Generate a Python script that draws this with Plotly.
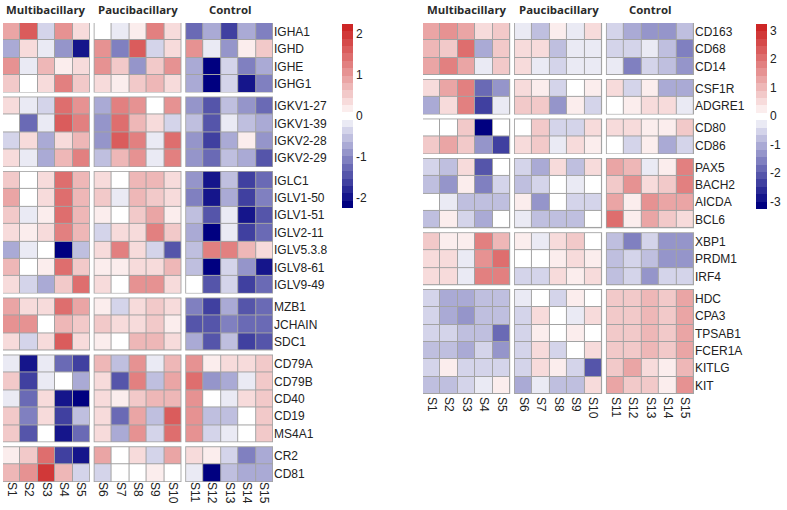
import plotly.graph_objects as go

# ---------------- data ----------------
samples = ["S1", "S2", "S3", "S4", "S5", "S6", "S7", "S8", "S9", "S10",
           "S11", "S12", "S13", "S14", "S15"]
col_groups = ["Multibacillary", "Paucibacillary", "Control"]

# Left heatmap (B-cell / immunoglobulin genes), scale -2..2
L1_genes = ["IGHA1", "IGHD", "IGHE", "IGHG1"]
L1_values = [
    [0.9, 1.6, -0.4, 1.1, 0.4, 0, -0.15, 0.1, 1.3, 0.3, -1.3, -0.7, -1.7, -0.7, -1.1],
    [-0.7, 0.4, -0.15, -0.9, -2.0, 1.0, -1.1, 1.6, -0.3, 0.4, 1.0, -0.15, -0.9, 0.1, 0.6],
    [1.0, -0.15, 0.8, 0.1, 0.3, 1.0, 0.6, -0.9, 0.5, 1.1, -0.7, -2.25, -0.35, -1.1, -0.7],
    [0.6, 0, 0.3, 1.3, 0.6, 0.4, 0.15, 0.6, 0.8, 0.3, -0.7, -2.1, -0.35, -1.9, -1.0],
]
L2_genes = ["IGKV1-27", "IGKV1-39", "IGKV2-28", "IGKV2-29"]
L2_values = [
    [0.4, -0.15, -0.35, 1.5, 1.0, -0.7, 1.2, 1.0, 0, 1.0, -0.9, -1.4, -0.5, -0.9, -1.3],
    [0, -1.3, -0.15, 1.7, 1.2, -0.9, 1.5, 0.8, 0.3, -0.35, -0.5, -1.4, -0.15, -0.5, -0.7],
    [-0.35, 0.3, -0.7, 0.3, 0.8, -0.9, 1.7, 1.2, -0.15, 1.5, -0.9, -1.7, -0.7, 0.1, -0.9],
    [0.4, -0.15, -0.7, 0.8, 1.3, -0.5, 0.7, 1.1, -0.15, 1.2, -0.9, -1.3, -0.5, -0.7, -1.5],
]
L3_genes = ["IGLC1", "IGLV1-50", "IGLV1-51", "IGLV2-11", "IGLV5.3.8", "IGLV8-61", "IGLV9-49"]
L3_values = [
    [0.6, 0, 0.3, 1.5, 0.7, 0.4, 0, 0.7, 0.8, 0.3, -0.9, -1.9, -0.5, -1.7, -1.3],
    [0.9, 0, 0.3, 1.4, 0.7, 0.6, -0.15, 0.7, 0.6, 0.3, -1.1, -1.9, -0.7, -1.7, -1.1],
    [0.6, -0.15, 0.15, 1.5, 0.8, 0.15, 0, 0.6, 0.9, 0.15, -0.5, -1.4, -0.15, -1.9, -1.4],
    [0.4, 0.15, 0.3, 1.2, 0.8, -0.35, 0.3, 0.3, 1.2, 0.6, -0.7, -2.25, -0.15, -1.7, -1.3],
    [-0.7, -0.15, 0, -2.25, -0.5, 0.3, 1.2, 0.3, -0.35, -1.4, -0.5, 1.2, 1.2, 0.8, 0.3],
    [0.7, 0, 0.15, 1.5, 0.6, 0.15, 0.15, 0.4, 0.4, 0.7, -0.5, -2.1, -0.35, -0.9, -1.9],
    [0.3, -0.35, -0.8, 0.6, 1.5, 0.3, 0, 1.1, 1.1, 0.3, 0, -1.4, -0.35, -1.7, -1.3],
]
L4_genes = ["MZB1", "JCHAIN", "SDC1"]
L4_values = [
    [0.9, 0.3, 0.3, 1.5, 0.9, 0.15, -0.35, 0.3, 0.5, 0.3, -1.1, -1.7, -0.7, -1.4, -1.2],
    [1.0, 1.0, 0, 0.8, 0.6, 0.6, 0.4, 0.4, 0.6, 0.15, -1.4, -1.4, -1.1, -1.2, -1.3],
    [0.4, -0.3, 0.4, 1.6, 0.3, 0.2, 0, 0.7, 0.7, 0.4, -0.7, -1.4, -0.5, -1.7, -1.4],
]
L5_genes = ["CD79A", "CD79B", "CD40", "CD19", "MS4A1"]
L5_values = [
    [-0.15, -1.9, -0.15, -1.3, -1.7, 0.7, -0.5, 1.1, -0.15, 0.8, 1.1, 0.15, 0.4, 0.4, 0.5],
    [0.6, -1.7, -0.15, 0, -0.7, 0.4, -1.4, 1.3, -0.5, 0.9, 1.4, -0.9, -0.7, -0.15, 0.6],
    [-0.15, -1.3, 0.3, -1.9, -2.25, 0.3, 0.15, 0.6, 0.8, 0.7, 1.1, 0, -0.15, 0.3, 0.6],
    [0.6, -1.1, 0.3, -1.7, -0.5, 0.3, -1.3, 0.9, -0.5, 1.7, 1.1, -0.5, -0.5, 0, 0.5],
    [0.6, -1.4, 0, -1.9, -1.2, 0.4, -0.7, 1.1, -0.35, 1.4, 1.1, -0.35, -0.15, 0, 0.5],
]
L6_genes = ["CR2", "CD81"]
L6_values = [
    [0.2, 0.6, 1.5, -1.7, -1.9, 0.9, 0, 0.3, -0.35, 0.9, 0.3, 0.1, -0.35, -1.0, -0.7],
    [0.8, 1.0, 2.0, 0.8, -0.35, -0.35, 0, 0, 0.1, 0, -0.15, -2.25, -0.5, -0.7, -0.8],
]

# Right heatmap (myeloid / plasma / mast-cell genes), scale -3..3
R1_genes = ["CD163", "CD68", "CD14"]
R1_values = [
    [1.3, 1.6, 1.3, 0.4, 0.7, -0.2, -0.9, 0.2, -0.2, 0.6, -0.5, -1.0, -1.3, -1.3, -0.7],
    [1.0, 0.7, 2.0, -1.0, 0.9, 0.6, 0.4, -0.9, -0.2, -0.2, -0.5, -0.5, -0.2, -0.8, -1.5],
    [1.3, 1.8, 1.3, -0.2, 0.9, 0.4, -0.2, -0.4, -0.2, -0.2, -0.2, -1.6, -0.4, -0.9, -1.3],
]
R2_genes = ["CSF1R", "ADGRE1"]
R2_values = [
    [0.4, 1.3, 1.9, -1.9, -1.3, 0.6, 0.2, -0.5, 0, 0.2, 0.6, -0.5, 0.2, -1.0, -1.0],
    [-1.0, 0.4, 1.8, -2.4, -0.2, 0.9, 0.7, -1.4, 0.2, -0.5, 0, 0.2, 0.4, 0.4, -0.2],
]
R3_genes = ["CD80", "CD86"]
R3_values = [
    [0, 0, 0.7, -3.25, 0, 0, 0.7, -0.5, -0.5, 0.4, 0.4, 0.4, 0.2, 0.2, 0.9],
    [0.7, 1.3, 0.7, -1.2, -2.4, 0.6, 0.7, -0.2, 0.4, 0.2, 0, -0.4, 0.2, -1.0, -0.6],
]
R4_genes = ["PAX5", "BACH2", "AICDA", "BCL6"]
R4_values = [
    [-0.5, -0.7, 0.4, -2.0, 0, -0.5, -1.0, 0.4, -0.8, 0.4, 1.4, 1.0, -0.2, 0.2, 1.9],
    [-0.9, -1.2, 0.2, -1.5, -0.4, -0.7, -0.5, 0, -0.2, 0, 0.7, 1.5, 0.4, 0.7, 1.8],
    [0, -0.2, -0.9, -0.9, -0.9, 0.2, -1.3, 0, -0.4, -0.5, 1.4, 0.2, 1.6, 1.3, 1.2],
    [-0.9, 0.2, -0.5, -1.1, 0, -0.2, -0.8, -0.7, -0.7, 0, 2.1, 0.2, 1.2, 0.7, 0.6],
]
R5_genes = ["XBP1", "PRDM1", "IRF4"]
R5_values = [
    [0.7, 0.2, 0.2, 1.8, 1.0, 0.2, -0.2, 0.4, 0.8, 0, -0.9, -1.5, -0.6, -1.2, -1.2],
    [0.4, 0.4, -0.2, 1.5, 2.0, 0, 0, 0.2, 0.4, 0.2, -0.9, -0.6, -0.8, -1.2, -1.2],
    [0.6, 0.4, -0.2, 1.7, 1.7, -0.4, -0.5, 0.6, 0.2, 0.4, -0.9, -0.6, -1.4, -0.6, -0.6],
]
R6_genes = ["HDC", "CPA3", "TPSAB1", "FCER1A", "KITLG", "KIT"]
R6_values = [
    [-0.6, -1.0, -1.0, -0.8, -0.8, -0.2, 0, -0.4, 0.2, 0, 0.9, 0.9, 1.1, 0.8, 1.4],
    [-0.6, -1.0, -1.4, -0.8, -0.8, -0.4, 0.4, 0, -0.2, 0.4, 0.9, 0.8, 1.1, 0.9, 1.4],
    [-0.4, -0.6, -0.8, -0.8, -1.8, -0.6, 0.2, 0, 0.2, 0, 0.9, 0.8, 1.1, 0.9, 1.2],
    [-0.8, -0.8, -1.0, -0.4, -1.4, -0.4, 0.4, -0.4, 0, 0.6, 0.7, 0.9, 1.1, 0.7, 1.4],
    [-0.6, 0.2, -0.4, -0.4, -0.6, -0.4, 0.6, 0.2, -0.4, -2.0, 0.7, 1.3, 0.4, 0.2, 1.1],
    [-0.9, -0.9, -0.4, -0.2, 0.2, -1.0, -0.2, -0.9, -0.9, 0.4, 1.3, 0.7, 0.9, 0.2, 1.6],
]

left_ticks = [-2, -1, 0, 1, 2]
left_ticktext = ["-2", "-1", "0", "1", "2"]
right_ticks = [-3, -2, -1, 0, 1, 2, 3]
right_ticktext = ["-3", "-2", "-1", "0", "1", "2", "3"]

left_blocks = [(L1_genes, L1_values), (L2_genes, L2_values), (L3_genes, L3_values),
               (L4_genes, L4_values), (L5_genes, L5_values), (L6_genes, L6_values)]
right_blocks = [(R1_genes, R1_values), (R2_genes, R2_values), (R3_genes, R3_values),
                (R4_genes, R4_values), (R5_genes, R5_values), (R6_genes, R6_values)]

# ---------------- styling ----------------
W, H = 787, 510
GX = 0.27   # gap between column blocks (cell units)
GY = 0.28   # gap between row blocks
BORDER = "#a3a3a3"
TXT = "#222222"


def stepped_scale(nhalf=12):
    navy = (0, 0, 128)
    red = (205, 38, 38)
    n = 2 * nhalf + 1
    scale = []
    for k in range(n):
        i = k - nhalf
        t = abs(i) / nhalf
        end = red if i > 0 else navy
        c = tuple(round(255 * (1 - t) + end[j] * t) for j in range(3))
        col = "rgb(%d,%d,%d)" % c
        scale.append([k / n, col])
        scale.append([(k + 1) / n, col])
    return scale


CS = stepped_scale()

fig = go.Figure()
shapes = []
annotations = []


def add_panel(blocks, xa, ya, cax):
    xref = "x" if xa == "x" else "x" + xa[1:]
    yref = "y" if ya == "y" else "y" + ya[1:]
    tickv_y, tickt_y = [], []
    r0 = 0
    for k, (genes, vals) in enumerate(blocks):
        ys = [r0 + i + k * GY for i in range(len(genes))]
        tickv_y += ys
        tickt_y += genes
        for g in range(3):
            xs = [g * 5 + j + g * GX for j in range(5)]
            z = [row[g * 5:(g + 1) * 5] for row in vals]
            fig.add_trace(go.Heatmap(
                x=xs, y=ys, z=z, xaxis=xa, yaxis=ya, coloraxis=cax,
                xgap=1, ygap=1,
                customdata=[[samples[g * 5 + j] for j in range(5)] for _ in genes],
                text=[[gname] * 5 for gname in genes],
                hovertemplate="%{text} %{customdata}: %{z}<extra></extra>"))
            shapes.append(dict(type="rect", xref=xref, yref=yref, layer="below",
                               x0=xs[0] - 0.55, x1=xs[-1] + 0.5,
                               y0=ys[0] - 0.55, y1=ys[-1] + 0.5,
                               fillcolor=BORDER, line=dict(width=0)))
        r0 += len(genes)
    nrows = r0
    tickv_x = [g * 5 + j + g * GX for g in range(3) for j in range(5)]
    for g in range(3):
        annotations.append(dict(xref=xref, yref="paper", x=g * 5 + 2 + g * GX, y=1 - 9 / H,
                                text="<b>%s</b>" % col_groups[g], showarrow=False,
                                xanchor="center", yanchor="middle",
                                font=dict(family="Open Sans", size=11.4, color="#2a2a2a")))
    return tickv_x, tickv_y, tickt_y, nrows


lx, ly, lyt, lrows = add_panel(left_blocks, "x", "y", "coloraxis")
rx, ry, ryt, rrows = add_panel(right_blocks, "x2", "y2", "coloraxis2")


def px_dom_x(a, b):
    return [a / W, b / W]


def px_dom_y(top, bottom):
    return [1 - bottom / H, 1 - top / H]


axfont = dict(family="Liberation Sans, Arial", size=12, color=TXT)
xcommon = dict(showgrid=False, zeroline=False, showline=False, ticks="",
               tickangle=90, tickfont=axfont, fixedrange=True)
ycommon = dict(showgrid=False, zeroline=False, showline=False, ticks="",
               side="right", tickfont=axfont, fixedrange=True)

xrange_ = [-0.5, 14.5 + 2 * GX]

fig.update_layout(
    width=W, height=H, margin=dict(l=0, r=0, t=0, b=0),
    paper_bgcolor="white", plot_bgcolor="white", showlegend=False,
    xaxis=dict(domain=px_dom_x(3, 273), range=xrange_, tickvals=lx, ticktext=samples,
               anchor="y", ticklabelstandoff=-1, **xcommon),
    yaxis=dict(domain=px_dom_y(23, 482), range=[lrows - 0.5 + 5 * GY, -0.5],
               tickvals=ly, ticktext=lyt, anchor="x", **ycommon),
    xaxis2=dict(domain=px_dom_x(423, 694), range=xrange_, tickvals=rx, ticktext=samples,
                anchor="y2", ticklabelstandoff=2, **xcommon),
    yaxis2=dict(domain=px_dom_y(23, 394), range=[rrows - 0.5 + 5 * GY, -0.5],
                tickvals=ry, ticktext=ryt, anchor="x2", **ycommon),
    coloraxis=dict(colorscale=CS, cmin=-2.25, cmax=2.25,
                   colorbar=dict(x=342 / W, xanchor="left", xpad=0, ypad=0,
                                 y=1 - 116 / H, yanchor="middle",
                                 len=184, lenmode="pixels", thickness=11,
                                 outlinewidth=0, tickvals=left_ticks,
                                 ticktext=left_ticktext,
                                 ticks="", tickfont=axfont)),
    coloraxis2=dict(colorscale=CS, cmin=-3.25, cmax=3.25,
                    colorbar=dict(x=756 / W, xanchor="left", xpad=0, ypad=0,
                                  y=1 - 116 / H, yanchor="middle",
                                  len=185, lenmode="pixels", thickness=11,
                                  outlinewidth=0, tickvals=right_ticks,
                                  ticktext=right_ticktext,
                                  ticks="", tickfont=axfont)),
    shapes=shapes, annotations=annotations,
)

fig.write_html("out.html", config={"displayModeBar": False},
               post_script="document.body.style.margin='0px';")
